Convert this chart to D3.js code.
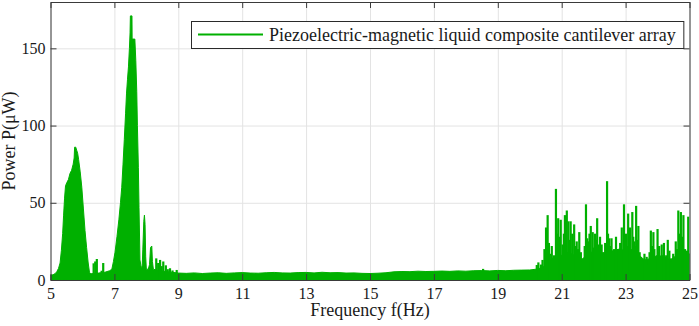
<!DOCTYPE html>
<html>
<head>
<meta charset="utf-8">
<script src="https://cdn.jsdelivr.net/npm/d3@7"></script>
<style>
  body { margin: 0; background: #fff; }
  svg { display: block; font-family: "Liberation Serif", "Times New Roman", serif; }
  .grid line { stroke: #e3e3e3; stroke-width: 1; }
  .grid path { display: none; }
  .axis path, .axis line { stroke: #3a3a3a; stroke-width: 1; }
  .axis text { fill: #1a1a1a; }
</style>
</head>
<body>
<div id="chart"></div>
<script>
// smooth part of the spectrum (peaks + noise floor)
const envFreq = [5.00, 5.08, 5.15, 5.20, 5.25, 5.30, 5.34, 5.38, 5.41, 5.44, 5.47, 5.51, 5.56, 5.61, 5.66, 5.71, 5.74, 5.755, 5.79, 5.82,
  5.85, 5.88, 5.93, 5.98, 6.03, 6.08, 6.13, 6.18, 6.22, 6.26, 6.50, 6.70, 6.85, 6.92, 6.97, 7.02, 7.08, 7.14, 7.19, 7.23,
  7.27, 7.31, 7.35, 7.38, 7.41, 7.44, 7.47, 7.49, 7.50, 7.55, 7.555, 7.64, 7.67, 7.70, 7.72, 7.75, 7.77, 7.80, 7.84, 7.87,
  7.89, 7.92, 7.94, 7.96, 7.98, 8.00, 8.06, 8.10, 8.13, 8.17, 8.19, 8.22, 8.40, 8.60, 8.80, 9.00,
  9.25, 9.50, 9.75, 10.00, 10.25, 10.50, 10.75, 11.00, 11.25, 11.50, 11.75, 12.00, 12.25, 12.50, 12.75, 13.00, 13.25, 13.50,
  13.75, 14.00, 14.25, 14.50, 14.75, 15.00, 15.25, 15.50, 15.75, 16.00, 16.25, 16.50, 16.75, 17.00, 17.25, 17.50, 17.75,
  18.00, 18.25, 18.50, 18.75, 19.00, 19.25, 19.50, 19.75, 20.00, 20.20, 20.40, 20.50, 20.60, 20.80, 21.00, 21.20, 21.40,
  21.60, 21.80, 22.00, 22.20, 22.40, 22.60, 22.80, 23.00, 23.20, 23.40, 23.60, 23.80, 24.00, 24.20, 24.40, 24.60, 24.80, 25.00];
const envPower = [3.0, 3.4, 4.2, 5.5, 7.5, 11, 19, 30, 42, 53, 61, 63, 65, 69, 71, 75, 79, 86, 86, 84,
  82, 78, 70, 60, 46, 32, 21, 11, 5, 4, 4.5, 5, 6, 7, 12, 18, 28, 39, 50, 60,
  75, 91, 108, 121, 130, 138, 150, 160, 171, 171, 156, 156, 142, 122, 100, 73, 47, 13, 8, 9,
  20, 38, 42, 36, 15, 7, 7, 10, 21, 22, 12, 7, 6, 5.5, 5, 4.5,
  4.3, 4.6, 4.2, 4.5, 4.7, 4.3, 4.6, 4.8, 4.5, 4.4, 4.7, 4.9, 4.6, 4.5, 4.8, 4.9, 4.6, 5.0,
  4.7, 4.8, 4.5, 4.6, 4.3, 4.2, 4.4, 4.7, 5.3, 5.5, 5.4, 5.7, 5.5, 5.6, 5.8, 5.6, 5.9,
  5.7, 6.0, 6.1, 5.9, 6.2, 6.0, 6.3, 6.4, 6.5, 7, 8, 10, 13, 15, 16, 18, 16,
  13, 16, 19, 18, 17, 19, 20, 19, 18, 16, 13, 14, 16, 15, 13, 16, 17, 17];

// narrow spikes
const spikeFreq = [6.35, 6.40, 6.45, 6.60, 6.65, 8.31, 8.37, 8.43, 8.48, 8.53, 8.61, 8.67, 8.74, 8.82, 8.95, 18.54,
  20.22, 20.27, 20.35, 20.40, 20.46, 20.51, 20.56, 20.60, 20.63, 20.69, 20.76, 20.82, 20.85, 20.89, 20.93, 20.97,
  21.03, 21.07, 21.10, 21.16, 21.21, 21.25, 21.28, 21.33, 21.39, 21.43, 21.47, 21.51, 21.55, 21.60, 21.63, 21.68,
  21.72, 21.76, 21.80, 21.83, 21.87, 21.91, 21.97, 22.00, 22.04, 22.08, 22.11, 22.15, 22.20, 22.25, 22.29, 22.32,
  22.36, 22.42, 22.45, 22.49, 22.53, 22.56, 22.60, 22.64, 22.70, 22.74, 22.77, 22.83, 22.88, 22.95, 22.98, 23.01,
  23.05, 23.08, 23.11, 23.14, 23.18, 23.21, 23.24, 23.27, 23.30, 23.33, 23.37, 23.40, 23.44, 23.48, 23.53, 23.59,
  23.63, 23.66, 23.71, 23.75, 23.79, 23.83, 23.87, 23.90, 23.94, 24.00, 24.03, 24.05, 24.09, 24.13, 24.17, 24.20,
  24.27, 24.32, 24.37, 24.41, 24.44, 24.49, 24.53, 24.57, 24.61, 24.65, 24.69, 24.73, 24.77, 24.81, 24.86, 24.92, 24.96];
const spikePower = [10.8, 12, 13.6, 6, 11, 14, 11, 13, 9, 12, 9.5, 7, 7.6, 6.2, 6.5, 7.2,
  9.7, 11.4, 10, 13, 20, 34, 42, 24, 17, 22, 16, 59, 30, 40, 28, 39,
  23, 30, 42, 45, 38, 26, 38, 30, 36, 22, 25, 20, 31, 18, 12, 13,
  22, 49, 27, 25, 30, 35, 31, 21, 30, 26, 40, 23, 28, 23, 17, 18,
  24, 64, 30, 27, 22, 27, 18, 20, 28, 15, 19, 24, 34, 49, 25, 30,
  22, 43, 26, 34, 20, 44, 28, 25, 22, 48, 26, 35, 18, 15, 12, 17,
  13, 15, 10, 18, 32, 22, 31, 20, 14, 33, 18, 22, 15, 23, 16, 24,
  16, 26, 19, 14, 12, 17, 14, 25, 20, 45, 30, 44, 28, 42, 20, 19, 41];

const xTicks = [5, 7, 9, 11, 13, 15, 17, 19, 21, 23, 25];
const yTicks = [0, 50, 100, 150];
const seriesName = "Piezoelectric-magnetic liquid composite cantilever array";

const width = 699;
const height = 326;
const margin = { top: 2, right: 9.5, bottom: 46, left: 50.5 };
const innerWidth = width - margin.left - margin.right;
const innerHeight = height - margin.top - margin.bottom;
const green = "#00b000";
const serif = "Liberation Serif, Times New Roman, serif";

const svg = d3.select("#chart")
  .append("svg")
  .attr("width", width)
  .attr("height", height);

const g = svg.append("g")
  .attr("transform", `translate(${margin.left},${margin.top})`);

const xScale = d3.scaleLinear().domain([5, 25]).range([0, innerWidth]);
const yScale = d3.scaleLinear().domain([0, 180]).range([innerHeight, 0]);

// grid
g.append("g")
  .attr("class", "grid")
  .attr("transform", `translate(0,${innerHeight})`)
  .call(d3.axisBottom(xScale).tickValues(xTicks).tickSize(-innerHeight).tickFormat(""))
  .call(a => a.selectAll("text").remove());
g.append("g")
  .attr("class", "grid")
  .call(d3.axisLeft(yScale).tickValues(yTicks).tickSize(-innerWidth).tickFormat(""))
  .call(a => a.selectAll("text").remove());

// data
g.append("clipPath").attr("id", "clip")
  .append("rect").attr("width", innerWidth).attr("height", innerHeight);

const plot = g.append("g").attr("clip-path", "url(#clip)");

const env = envFreq.map((f, i) => ({ f: f, p: envPower[i] }));
const area = d3.area()
  .x(d => xScale(d.f))
  .y0(yScale(0))
  .y1(d => yScale(d.p));

plot.append("path")
  .datum(env)
  .attr("fill", green)
  .attr("stroke", green)
  .attr("stroke-width", 1)
  .attr("d", area);

const spikes = spikeFreq.map((f, i) => ({ f: f, p: spikePower[i] }));
plot.selectAll(".spike")
  .data(spikes)
  .enter()
  .append("rect")
  .attr("class", "spike")
  .attr("x", d => xScale(d.f) - 1.1)
  .attr("width", 2.2)
  .attr("y", d => yScale(d.p))
  .attr("height", d => yScale(0) - yScale(d.p))
  .attr("fill", green);

// axes, ticks pointing inwards
g.append("g")
  .attr("class", "axis")
  .attr("transform", `translate(0,${innerHeight})`)
  .call(d3.axisBottom(xScale).tickValues(xTicks).tickSizeInner(-6).tickSizeOuter(0).tickPadding(8))
  .attr("font-size", 16)
  .attr("font-family", serif);
g.append("g")
  .attr("class", "axis")
  .call(d3.axisTop(xScale).tickValues(xTicks).tickSizeInner(-6).tickSizeOuter(0).tickFormat(""))
  .call(a => a.selectAll("text").remove());
g.append("g")
  .attr("class", "axis")
  .call(d3.axisLeft(yScale).tickValues(yTicks).tickSizeInner(-6).tickSizeOuter(0).tickPadding(5))
  .attr("font-size", 16)
  .attr("font-family", serif);
g.append("g")
  .attr("class", "axis")
  .attr("transform", `translate(${innerWidth},0)`)
  .call(d3.axisRight(yScale).tickValues(yTicks).tickSizeInner(-6).tickSizeOuter(0).tickFormat(""))
  .call(a => a.selectAll("text").remove());

// axis labels
svg.append("text")
  .attr("x", margin.left + innerWidth / 2)
  .attr("y", 316)
  .attr("text-anchor", "middle")
  .attr("font-size", 18)
  .attr("fill", "#1a1a1a")
  .text("Frequency f(Hz)");

svg.append("text")
  .attr("transform", `translate(15,${margin.top + innerHeight / 2}) rotate(-90)`)
  .attr("text-anchor", "middle")
  .attr("font-size", 18)
  .attr("fill", "#1a1a1a")
  .text("Power P(\u03bcW)");

// legend
const legend = svg.append("g").attr("transform", "translate(191.5,21.5)");
const legendBox = legend.append("rect")
  .attr("width", 490)
  .attr("height", 27)
  .attr("fill", "#fff")
  .attr("stroke", "#2a2a2a")
  .attr("stroke-width", 1);
legend.append("line")
  .attr("x1", 6.5).attr("x2", 71.5)
  .attr("y1", 13).attr("y2", 13)
  .attr("stroke", green)
  .attr("stroke-width", 2);
const legendText = legend.append("text")
  .attr("x", 77.5)
  .attr("y", 19)
  .attr("font-size", 18)
  .attr("fill", "#1a1a1a")
  .text(seriesName);
legendBox.attr("width", 77.5 + legendText.node().getComputedTextLength() + 8);
</script>
</body>
</html>
